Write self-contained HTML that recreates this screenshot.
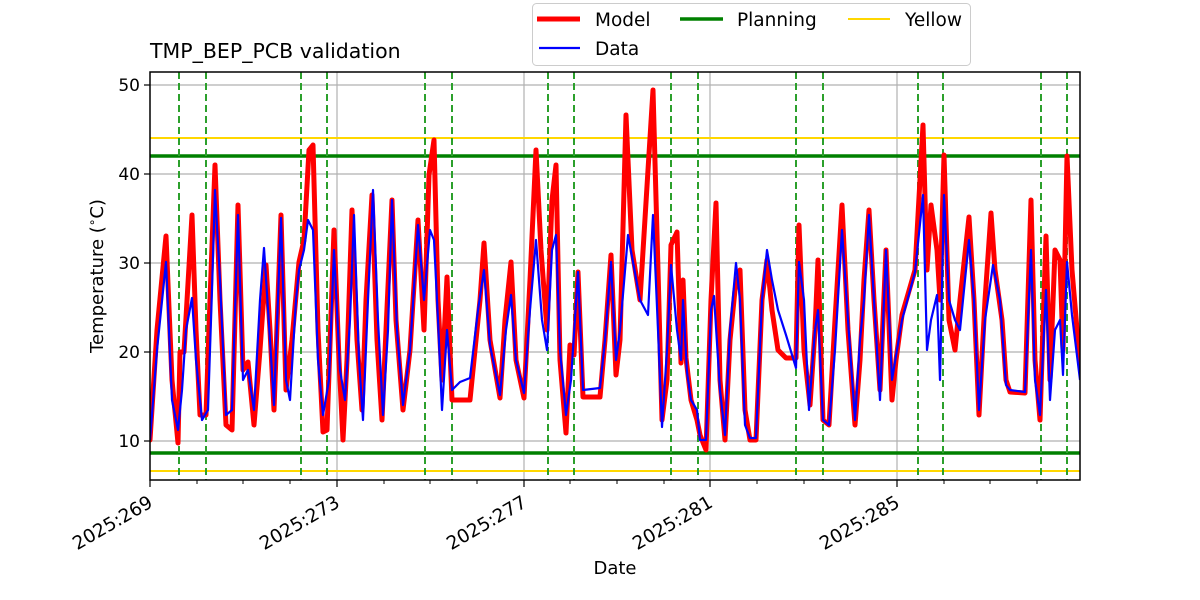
<!DOCTYPE html>
<html><head><meta charset="utf-8"><style>
html,body{margin:0;padding:0;background:#fff;}
svg{display:block;font-family:"DejaVu Sans","Liberation Sans",sans-serif;}
</style></head><body>
<svg width="1200" height="600" viewBox="0 0 1200 600" xmlns="http://www.w3.org/2000/svg">
<defs><clipPath id="c"><rect x="150" y="72" width="930" height="408"/></clipPath></defs>
<rect width="1200" height="600" fill="#fff"/>
<g stroke="#b0b0b0" stroke-width="1.2">
<line x1="150" y1="85" x2="1080" y2="85"/><line x1="150" y1="174" x2="1080" y2="174"/>
<line x1="150" y1="263" x2="1080" y2="263"/><line x1="150" y1="352" x2="1080" y2="352"/>
<line x1="150" y1="441" x2="1080" y2="441"/>
<line x1="337" y1="72" x2="337" y2="480"/><line x1="524" y1="72" x2="524" y2="480"/>
<line x1="710" y1="72" x2="710" y2="480"/><line x1="897" y1="72" x2="897" y2="480"/>
</g>
<g clip-path="url(#c)">
<line x1="150" y1="138" x2="1080" y2="138" stroke="#ffd700" stroke-width="2"/>
<line x1="150" y1="471" x2="1080" y2="471" stroke="#ffd700" stroke-width="2"/>
<line x1="150" y1="156" x2="1080" y2="156" stroke="#008000" stroke-width="3.5"/>
<line x1="150" y1="453" x2="1080" y2="453" stroke="#008000" stroke-width="3.5"/>
<g stroke="#2ca02c" stroke-width="2" stroke-dasharray="7,4">
<line x1="179" y1="72" x2="179" y2="480"/><line x1="206" y1="72" x2="206" y2="480"/>
<line x1="301" y1="72" x2="301" y2="480"/><line x1="327" y1="72" x2="327" y2="480"/>
<line x1="425" y1="72" x2="425" y2="480"/><line x1="452" y1="72" x2="452" y2="480"/>
<line x1="548" y1="72" x2="548" y2="480"/><line x1="574" y1="72" x2="574" y2="480"/>
<line x1="671" y1="72" x2="671" y2="480"/><line x1="698" y1="72" x2="698" y2="480"/>
<line x1="796" y1="72" x2="796" y2="480"/><line x1="823" y1="72" x2="823" y2="480"/>
<line x1="918" y1="72" x2="918" y2="480"/><line x1="943" y1="72" x2="943" y2="480"/>
<line x1="1041" y1="72" x2="1041" y2="480"/><line x1="1067" y1="72" x2="1067" y2="480"/>
</g>
<polyline fill="none" stroke="#ff0000" stroke-width="5" stroke-linejoin="round" stroke-linecap="round" points="150,440 157,330 166,236 172,380 178,443 180,352 184,352 192,215 196,330 200,415 206,415 210,300 215,165 220,300 226,425 232,430 238,205 243,370 248,362 254,425 260,350 266,265 270,330 274,410 281,215 286,390 292,340 299,262 304,240 309,150 313,145 318,330 323,432 327,430 334,230 339,360 343,440 347,360 352,210 357,340 362,410 366,300 372,195 377,340 382,420 386,330 392,200 396,320 403,410 410,350 418,220 424,330 429,175 434,140 438,300 442,380 447,277 452,400 470,400 480,300 484,243 490,340 500,398 505,320 511,262 516,360 524,398 530,280 536,150 541,250 547,330 552,200 556,165 560,360 566,433 570,345 574,355 578,272 583,397 600,397 605,340 611,255 616,375 620,340 626,115 632,250 640,300 648,170 653,90 658,270 662,420 667,380 671,245 677,232 681,363 683,280 686,358 691,400 697,420 700,435 706,450 711,300 716,203 720,380 725,440 730,340 735,290 740,270 745,410 750,440 756,440 762,300 767,260 772,310 778,350 786,358 796,358 799,225 804,350 810,405 815,330 818,260 823,420 829,425 835,320 842,205 848,330 855,425 860,360 864,280 869,210 874,300 880,390 886,250 892,400 896,360 902,315 915,270 923,125 927,270 931,205 937,250 940,300 944,155 949,320 955,350 960,300 969,217 974,300 979,415 985,300 991,213 995,270 1002,320 1006,380 1010,392 1025,393 1031,200 1035,360 1040,420 1046,236 1050,380 1055,250 1060,260 1063,350 1067,156 1072,270 1080,365"/>
<polyline fill="none" stroke="#0000ff" stroke-width="2.2" stroke-linejoin="round" points="150,440 157,350 166,262 172,400 178,430 182,390 186,330 192,298 196,360 202,420 208,410 212,290 215,190 220,280 226,415 232,410 238,215 243,380 248,370 254,410 260,300 264,248 270,340 274,405 281,218 286,380 290,400 296,300 299,270 304,250 308,220 313,230 318,360 323,415 329,380 334,250 340,370 345,400 350,320 354,215 359,360 363,420 368,300 373,190 378,320 383,415 388,330 392,200 397,330 403,405 410,350 418,225 424,300 430,230 434,240 438,320 442,410 447,330 452,390 460,382 470,378 478,310 484,270 490,345 500,395 506,330 511,295 516,360 524,393 530,310 536,240 542,320 547,350 552,250 556,235 560,350 566,415 571,380 578,272 583,390 600,388 605,340 611,262 616,360 620,330 628,235 640,300 648,315 653,215 658,330 662,427 667,350 671,265 677,330 681,360 683,300 687,372 691,400 697,410 700,440 706,440 711,310 714,296 720,390 725,435 730,330 736,263 740,300 745,425 750,438 756,438 762,300 767,250 772,280 778,310 786,335 796,368 799,262 804,300 809,410 815,330 818,310 823,420 829,425 835,350 842,230 848,320 855,420 860,340 864,300 869,215 874,300 880,400 886,250 892,380 902,320 915,272 923,195 927,350 931,320 937,295 940,380 944,195 949,300 955,320 960,330 969,240 974,300 979,410 985,320 993,265 1000,300 1006,385 1010,390 1025,392 1031,250 1035,380 1040,415 1046,290 1050,400 1055,330 1060,320 1063,375 1067,262 1072,315 1080,380"/>
</g>
<rect x="150" y="72" width="930" height="408" fill="none" stroke="#000" stroke-width="1.5"/>
<g stroke="#000" stroke-width="1.2">
<line x1="144" y1="85" x2="150" y2="85"/><line x1="144" y1="174" x2="150" y2="174"/>
<line x1="144" y1="263" x2="150" y2="263"/><line x1="144" y1="352" x2="150" y2="352"/>
<line x1="144" y1="441" x2="150" y2="441"/>
<line x1="150" y1="480" x2="150" y2="487"/><line x1="337" y1="480" x2="337" y2="487"/>
<line x1="524" y1="480" x2="524" y2="487"/><line x1="710" y1="480" x2="710" y2="487"/>
<line x1="897" y1="480" x2="897" y2="487"/>
</g>
<g stroke="#000" stroke-width="1">
<line x1="197" y1="480" x2="197" y2="484"/><line x1="243" y1="480" x2="243" y2="484"/><line x1="290" y1="480" x2="290" y2="484"/>
<line x1="384" y1="480" x2="384" y2="484"/><line x1="430" y1="480" x2="430" y2="484"/><line x1="477" y1="480" x2="477" y2="484"/>
<line x1="570" y1="480" x2="570" y2="484"/><line x1="617" y1="480" x2="617" y2="484"/><line x1="664" y1="480" x2="664" y2="484"/>
<line x1="757" y1="480" x2="757" y2="484"/><line x1="804" y1="480" x2="804" y2="484"/><line x1="850" y1="480" x2="850" y2="484"/>
<line x1="944" y1="480" x2="944" y2="484"/><line x1="990" y1="480" x2="990" y2="484"/><line x1="1037" y1="480" x2="1037" y2="484"/>
</g>
<g font-size="17" text-anchor="end" fill="#000">
<text x="140" y="91">50</text><text x="140" y="180">40</text><text x="140" y="269">30</text>
<text x="140" y="358">20</text><text x="140" y="447">10</text>
</g>
<g font-size="18.5" text-anchor="end" fill="#000">
<text transform="translate(154,506) rotate(-30)">2025:269</text>
<text transform="translate(341,506) rotate(-30)">2025:273</text>
<text transform="translate(528,506) rotate(-30)">2025:277</text>
<text transform="translate(714,506) rotate(-30)">2025:281</text>
<text transform="translate(901,506) rotate(-30)">2025:285</text>
</g>
<text x="615" y="574" font-size="18" text-anchor="middle">Date</text>
<text transform="translate(103,276) rotate(-90)" font-size="18" text-anchor="middle">Temperature (<tspan font-size="12" dy="-7">∘</tspan><tspan dy="7">C)</tspan></text>
<text x="150" y="58" font-size="20.5">TMP_BEP_PCB validation</text>
<rect x="532.5" y="3.5" width="438" height="62" rx="4" fill="#fff" stroke="#ccc"/>
<line x1="537" y1="19" x2="580" y2="19" stroke="#ff0000" stroke-width="5"/>
<text x="595" y="26" font-size="18.5">Model</text>
<line x1="539" y1="48" x2="580" y2="48" stroke="#0000ff" stroke-width="2.2"/>
<text x="595" y="55" font-size="18.5">Data</text>
<line x1="680" y1="19" x2="723" y2="19" stroke="#008000" stroke-width="3.5"/>
<text x="737" y="26" font-size="18.5">Planning</text>
<line x1="848" y1="19" x2="890" y2="19" stroke="#ffd700" stroke-width="2"/>
<text x="905" y="26" font-size="18.5">Yellow</text>
</svg>
</body></html>
